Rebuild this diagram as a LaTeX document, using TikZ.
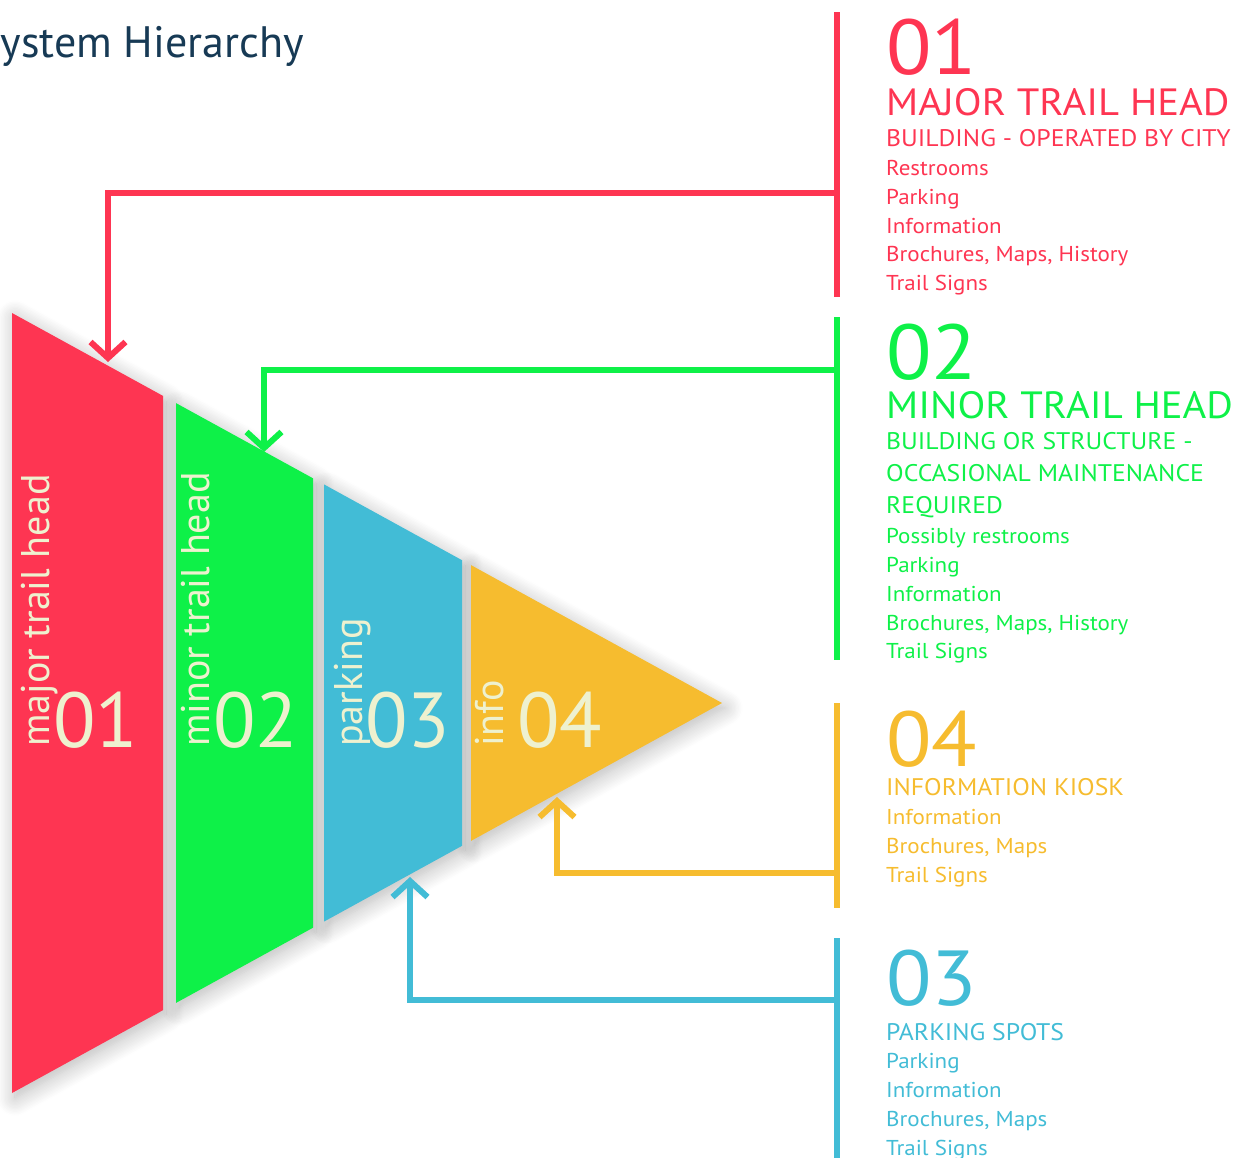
\documentclass[tikz,border=0pt]{standalone}
\usepackage{fontspec}
\setmainfont{PT Sans}
\newfontfamily\widefont{PT Sans}[FakeStretch=1.07]
\usetikzlibrary{arrows.meta,shadows.blur}

\definecolor{cred}{HTML}{FE3552}
\definecolor{cgreen}{HTML}{0EF148}
\definecolor{cblue}{HTML}{42BCD6}
\definecolor{cyellow}{HTML}{F6BC2F}
\definecolor{ccream}{HTML}{EEF1CF}
\definecolor{ctitle}{HTML}{173A55}

\tikzset{
  segshadow/.style={blur shadow={shadow xshift=3pt, shadow yshift=-5pt,
      shadow blur radius=18pt, shadow opacity=28, shadow blur steps=14}},
  bar/.style={line width=6pt},
  link/.style={line width=6pt, -{Straight Barb[length=16pt,width=35pt]}},
  bignum/.style={font=\widefont\fontsize{78}{78}\selectfont, inner sep=0,
      text depth=0pt, anchor=base west},
  head/.style={font=\widefont\fontsize{38}{38}\selectfont, inner sep=0, anchor=base west},
  sub/.style={font=\widefont\fontsize{24}{24}\selectfont, inner sep=0, anchor=base west},
  item/.style={font=\widefont\fontsize{21.5}{21.5}\selectfont, inner sep=0, anchor=base west},
  tlabel/.style={font=\fontsize{40}{40}\selectfont, text=ccream, inner sep=0,
      anchor=base west, rotate=90},
  tnum/.style={font=\fontsize{78}{78}\selectfont, text=ccream, inner sep=0,
      anchor=base west},
}

\begin{document}
\begin{tikzpicture}[x=1pt,y=-1pt]
\useasboundingbox (0,0) rectangle (1245,1157);
\clip (0,0) rectangle (1245,1157);

% title
\node[font=\fontsize{44}{44}\selectfont, text=ctitle, inner sep=0, anchor=base east]
  (title) at (304,57) {System Hierarchy};

% the four bands of the triangle
\def\segA{(12,313) -- (163,395.9) -- (163,1010.1) -- (12,1093) -- cycle}
\def\segB{(176,403.1) -- (313,478.3) -- (313,927.7) -- (176,1002.9) -- cycle}
\def\segC{(324,484.4) -- (462,560.2) -- (462,845.8) -- (324,921.6) -- cycle}
\def\segD{(471,565.1) -- (722,703) -- (471,840.9) -- cycle}

\path[segshadow] \segA;
\path[segshadow] \segB;
\path[segshadow] \segC;
\path[segshadow] \segD;
\fill[cred] \segA;
\fill[cgreen] \segB;
\fill[cblue] \segC;
\fill[cyellow] \segD;

% band labels
\node[tlabel] (la) at (49,747) {major trail head};
\node[tnum] (na) at (53,747) {01};
\node[tlabel] (lb) at (209,747) {minor trail head};
\node[tnum] (nb) at (213,747) {02};
\node[tlabel] (lc) at (362,747) {parking};
\node[tnum] (nc) at (365,747) {03};
\node[tlabel] (ld) at (503,747) {info};
\node[tnum] (nd) at (517,747) {04};

% vertical bars
\draw[bar,cred] (837,12) -- (837,297);
\draw[bar,cgreen] (837,317) -- (837,660);
\draw[bar,cyellow] (837,703) -- (837,908);
\draw[bar,cblue] (837,938) -- (837,1160);

% connectors from the bars to the bands
\coordinate (ra) at (837,193);  \coordinate (ta) at (108,362);
\coordinate (rb) at (837,370);  \coordinate (tb) at (264,452);
\coordinate (rd) at (837,873);  \coordinate (td) at (557,797);
\coordinate (rc) at (837,1000); \coordinate (tc) at (410,877);
\draw[link,cred] (ra) -| (ta);
\draw[link,cgreen] (rb) -| (tb);
\draw[link,cyellow] (rd) -| (td);
\draw[link,cblue] (rc) -| (tc);

% 01 major trail head
\begin{scope}[text=cred]
\node[bignum] (a0) at (886,74) {01};
\node[head] (a1) at (886,115) {MAJOR TRAIL HEAD};
\node[sub] (a2) at (886,146) {BUILDING - OPERATED BY CITY};
\node[item] (a3) at (886,175) {Restrooms};
\node[item] (a4) at (886,204) {Parking};
\node[item] (a5) at (886,233) {Information};
\node[item] (a6) at (886,261) {Brochures, Maps, History};
\node[item] (a7) at (886,290) {Trail Signs};
\end{scope}

% 02 minor trail head
\begin{scope}[text=cgreen]
\node[bignum] (b0) at (886,379) {02};
\node[head] (b1) at (886,418) {MINOR TRAIL HEAD};
\node[sub] (b2) at (886,449) {BUILDING OR STRUCTURE -};
\node[sub] (b3) at (886,481) {OCCASIONAL MAINTENANCE};
\node[sub] (b4) at (886,513) {REQUIRED};
\node[item] (b5) at (886,543) {Possibly restrooms};
\node[item] (b6) at (886,572) {Parking};
\node[item] (b7) at (886,601) {Information};
\node[item] (b8) at (886,630) {Brochures, Maps, History};
\node[item] (b9) at (886,658) {Trail Signs};
\end{scope}

% 04 information kiosk
\begin{scope}[text=cyellow]
\node[bignum] (d0) at (886,766) {04};
\node[sub] (d1) at (886,795) {INFORMATION KIOSK};
\node[item] (d2) at (886,824) {Information};
\node[item] (d3) at (886,853) {Brochures, Maps};
\node[item] (d4) at (886,882) {Trail Signs};
\end{scope}

% 03 parking spots
\begin{scope}[text=cblue]
\node[bignum] (c0) at (886,1005) {03};
\node[sub] (c1) at (886,1040) {PARKING SPOTS};
\node[item] (c2) at (886,1068) {Parking};
\node[item] (c3) at (886,1097) {Information};
\node[item] (c4) at (886,1126) {Brochures, Maps};
\node[item] (c5) at (886,1155) {Trail Signs};
\end{scope}
\end{tikzpicture}
\end{document}
